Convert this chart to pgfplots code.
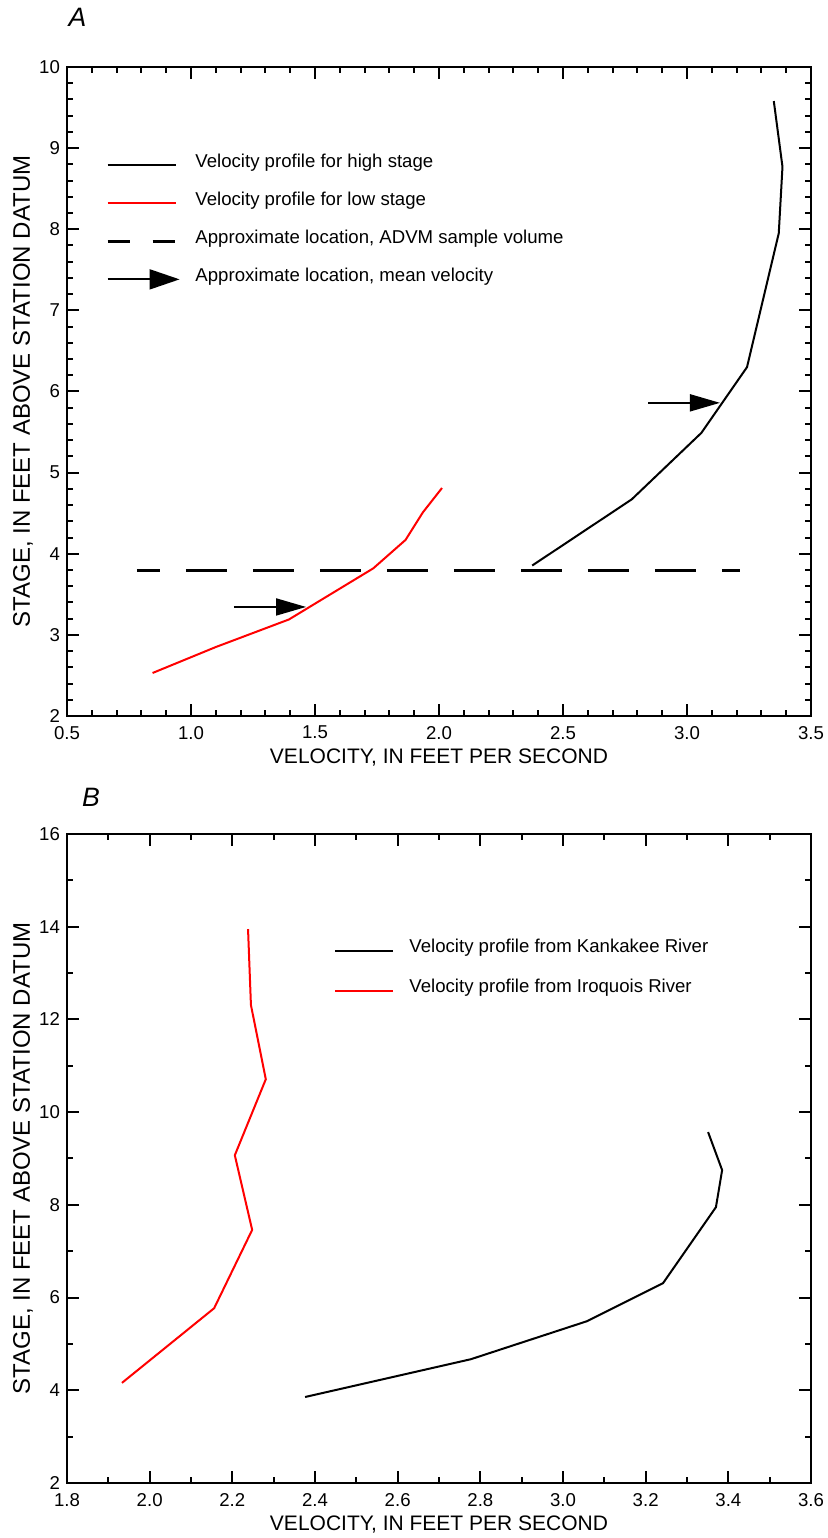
\documentclass[border=0pt]{standalone}
\usepackage{fontspec}
\setmainfont{Liberation Sans}
\usepackage{pgfplots}
\pgfplotsset{compat=1.18}
\usetikzlibrary{arrows.meta}

% common look of both panels
\pgfplotsset{
  panel/.style={
    scale only axis, width=372pt, height=324.5pt,
    axis line style={line width=1.2pt},
    tick align=inside, tick pos=both,
    major tick length=6pt, minor tick length=3pt,
    every tick/.append style={black, line width=1pt},
    tick label style={font=\fontsize{9.3}{11}\selectfont},
    xticklabel style={yshift=-1.5pt},
    /pgf/number format/assume math mode=true,
    xlabel style={font=\fontsize{10.5}{12}\selectfont, at={(axis description cs:0.5,-0.0632)}, anchor=center},
    ylabel style={font=\fontsize{12}{14}\selectfont, at={(axis description cs:-0.0591,0.5)}, anchor=center},
    xlabel={VELOCITY, IN FEET PER SECOND},
    ylabel={STAGE, IN FEET ABOVE STATION DATUM},
    enlargelimits=false,
    legend cell align=left,
  },
  prof/.style={line width=1pt},
}

\begin{document}
\begin{tikzpicture}
\useasboundingbox (0,0) rectangle (413.5pt,769pt);

% ---- panel A ----
\begin{axis}[panel,
  at={(33.5pt,411pt)}, anchor=south west,
  xmin=0.5, xmax=3.5, ymin=2, ymax=10,
  xtick={0.5,1,...,3.5}, ytick={2,3,...,10},
  minor x tick num=4, minor y tick num=4,
  xticklabel style={/pgf/number format/.cd, fixed, fixed zerofill, precision=1},
  legend image code/.code={\draw[#1] (0pt,-1.5pt) -- (34pt,-1.5pt);},
  legend style={draw=none, fill=none, inner sep=0pt,
    at={(0.052,0.874)}, anchor=north west,
    font=\fontsize{9.3}{11}\selectfont,
    row sep=5.8pt, column sep=5.5pt,
    nodes={inner sep=2pt, text height=7pt, text depth=2.2pt}},
]
\addplot[prof, black] coordinates {
  (2.376,3.855) (2.777,4.67) (3.058,5.49) (3.242,6.30)
  (3.370,7.95) (3.385,8.77) (3.350,9.58)};
\addlegendentry{Velocity profile for high stage}
\addplot[prof, red] coordinates {
  (0.845,2.53) (1.100,2.85) (1.395,3.19) (1.735,3.82)
  (1.865,4.17) (1.935,4.51) (2.012,4.81)};
\addlegendentry{Velocity profile for low stage}
\addplot[black, line width=1.5pt, dash pattern=on 20.5pt off 13pt, dash phase=9pt,
  legend image code/.code={\draw[black, line width=1.5pt, dash pattern=on 11pt off 11.5pt, dash phase=0pt] (0pt,-1.5pt) -- (34pt,-1.5pt);}]
  coordinates {(0.782,3.79) (3.214,3.79)};
\addlegendentry{Approximate location, ADVM sample volume}
\addplot[black, line width=0.9pt, -{Triangle[length=15pt,width=8.5pt]},
  legend image code/.code={\draw[black, line width=0.9pt, -{Triangle[length=15pt,width=10pt]}] (0pt,-1.5pt) -- (36pt,-1.5pt);}]
  coordinates {(1.173,3.344) (1.464,3.344)};
\addlegendentry{Approximate location, mean velocity}
\addplot[black, line width=0.9pt, -{Triangle[length=15pt,width=8.5pt]}, forget plot]
  coordinates {(2.843,5.86) (3.133,5.86)};
\end{axis}

% ---- panel B ----
\begin{axis}[panel,
  at={(33.5pt,27.5pt)}, anchor=south west,
  xmin=1.8, xmax=3.6, ymin=2, ymax=16,
  xtick={1.8,2.0,...,3.6}, ytick={2,4,...,16},
  minor x tick num=1, minor y tick num=1,
  xticklabel style={/pgf/number format/.cd, fixed, fixed zerofill, precision=1},
  legend image code/.code={\draw[#1] (0pt,-1.5pt) -- (29pt,-1.5pt);},
  legend style={draw=none, fill=none, inner sep=0pt,
    at={(0.359,0.846)}, anchor=north west,
    font=\fontsize{9.3}{11}\selectfont,
    row sep=6.8pt, column sep=5.5pt,
    nodes={inner sep=2pt, text height=7pt, text depth=2.2pt}},
]
\addplot[prof, black] coordinates {
  (2.376,3.855) (2.777,4.67) (3.058,5.49) (3.242,6.31)
  (3.370,7.95) (3.385,8.75) (3.351,9.57)};
\addlegendentry{Velocity profile from Kankakee River}
\addplot[prof, red] coordinates {
  (1.933,4.16) (2.156,5.77) (2.248,7.46) (2.206,9.07)
  (2.281,10.71) (2.245,12.31) (2.238,13.95)};
\addlegendentry{Velocity profile from Iroquois River}
\end{axis}

% panel letters
\node[font=\fontsize{13.3}{15}\selectfont\itshape] at (38.75pt,760.25pt) {A};
\node[font=\fontsize{13.3}{15}\selectfont\itshape] at (45.5pt,370.5pt) {B};
\end{tikzpicture}
\end{document}
